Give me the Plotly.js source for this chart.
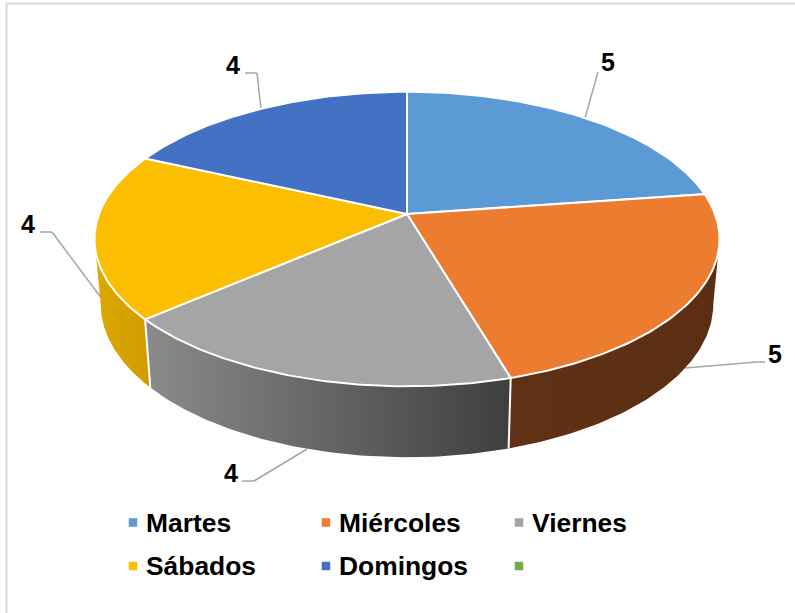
<!DOCTYPE html>
<html><head><meta charset="utf-8">
<script src="https://cdn.plot.ly/plotly-3.0.1.min.js"></script>
<style>html,body{margin:0;padding:0;background:#fff}</style>
</head><body><div id="chart" style="width:795px;height:613px"></div>
<script>
const categories = ['Martes','Miércoles','Viernes','Sábados','Domingos',' '];
const values = [5,5,4,4,4,0];
const colors = ['#5b9ad5','#ec7c30','#a5a5a5','#fbbe00','#4371c3','#70ad47'];
const wallScales = [null,
  [[0,'#613115'],[1,'#5b2e13']],
  [[0,'#8b8b8b'],[1,'#3e3e3e']],
  [[0,'#dfa800'],[1,'#cf9b00']],
  null,null];

const FONT = 'Liberation Sans, Arial, sans-serif';
const cx=407, cy=214, b=308, a=143, k=0.17, depth=64, sx=0.98, sy=1.04;
const top_ = t => { const X=Math.sin(t),Y=Math.cos(t),w=1+k*Y; return [cx+b*X/w, cy-a*Y/w]; };
const bot_ = t => { const X=Math.sin(t),Y=Math.cos(t),w=1+k*Y; return [cx+sx*b*X/w, cy+depth-sy*a*Y/w]; };
const arc = (f,t0,t1,n) => { const p=[]; for(let i=0;i<=n;i++) p.push(f(t0+(t1-t0)*i/n)); return p; };
const total = values.reduce((s,v)=>s+v,0);
const tangent = Math.acos(-k);
const traces = [];
let start = 0; const spans = [];
values.forEach(v=>{ const e=start+v/total*2*Math.PI; spans.push([start,e]); start=e; });

// side walls
spans.forEach(([s,e],i)=>{
  const vs = Math.max(s,tangent), ve = Math.min(e,2*Math.PI-tangent);
  if(ve<=vs || !wallScales[i]) return;
  const n=80, pts=arc(top_,vs,ve,n).concat(arc(bot_,ve,vs,n));
  pts.push(pts[0]);
  traces.push({type:'scatter',mode:'lines',x:pts.map(p=>p[0]),y:pts.map(p=>p[1]),fill:'toself',
    line:{width:0},fillgradient:{type:'horizontal',colorscale:wallScales[i]},hoverinfo:'skip',showlegend:false});
});
// wall separators
spans.forEach(([s,e],i)=>{
  if(values[i]===0) return;
  if(s>tangent && s<2*Math.PI-tangent){
    const p=top_(s),q=bot_(s);
    traces.push({type:'scatter',mode:'lines',x:[p[0],q[0]],y:[p[1],q[1]],line:{color:'#ffffff',width:2},hoverinfo:'skip',showlegend:false});
  }
});
// top faces
spans.forEach(([s,e],i)=>{
  if(values[i]===0) return;
  const pts=[[cx,cy]].concat(arc(top_,s,e,90)); pts.push([cx,cy]);
  traces.push({type:'scatter',mode:'lines',x:pts.map(p=>p[0]),y:pts.map(p=>p[1]),fill:'toself',fillcolor:colors[i],
    line:{color:'#ffffff',width:2},hoverinfo:'text',text:categories[i]+': '+values[i],showlegend:false});
});

// legend grid
const legendX = [133,326,519], legendY = [522.5,566], legendTextGap = 13;
const annotations = [];
categories.forEach((c,i)=>{
  const lx=legendX[i%3], ly=legendY[Math.floor(i/3)];
  traces.push({type:'scatter',mode:'markers',x:[lx],y:[ly],name:c,marker:{symbol:'square',size:8.5,color:colors[i]},hoverinfo:'skip',showlegend:false});
  if(c.trim()) annotations.push({xref:'x',yref:'y',x:lx+legendTextGap,y:ly,text:c,showarrow:false,xanchor:'left',yanchor:'middle',
    xshift:-2,font:{family:FONT,size:26.4,color:'#000000',weight:'bold'}});
});

const leaders = [
  [[598,72],[585,118]],
  [[765,362],[757,362],[685,368]],
  [[242,481],[254,481],[307,449]],
  [[40,232],[52,232],[102,299]],
  [[245,73],[257,73],[261,109]]
];
const labelPos = [[608,62],[775,354],[231,473],[28,224],[233,65]];

const shapes = [
  {type:'line',xref:'x',yref:'y',x0:6,x1:795,y0:3.5,y1:3.5,line:{color:'#d9d9d9',width:2},layer:'below'},
  {type:'line',xref:'x',yref:'y',x0:6.5,x1:6.5,y0:3,y1:613,line:{color:'#d9d9d9',width:2},layer:'below'}
];
leaders.forEach(l=>{
  for(let i=0;i<l.length-1;i++) shapes.push({type:'line',xref:'x',yref:'y',x0:l[i][0],y0:l[i][1],x1:l[i+1][0],y1:l[i+1][1],line:{color:'#a6a6a6',width:1.5},layer:'below'});
});
labelPos.forEach((p,i)=>annotations.push({xref:'x',yref:'y',x:p[0],y:p[1],text:String(values[i]),showarrow:false,xanchor:'center',yanchor:'middle',
  font:{family:FONT,size:25,color:'#000000',weight:'bold'}}));

const layout = {
  width:795,height:613,margin:{l:0,r:0,t:0,b:0},paper_bgcolor:'#ffffff',plot_bgcolor:'#ffffff',showlegend:false,
  xaxis:{range:[0,795],visible:false,fixedrange:true},
  yaxis:{range:[613,0],visible:false,fixedrange:true},
  shapes,annotations
};
Plotly.newPlot('chart',traces,layout,{displayModeBar:false,responsive:false});
</script></body></html>
